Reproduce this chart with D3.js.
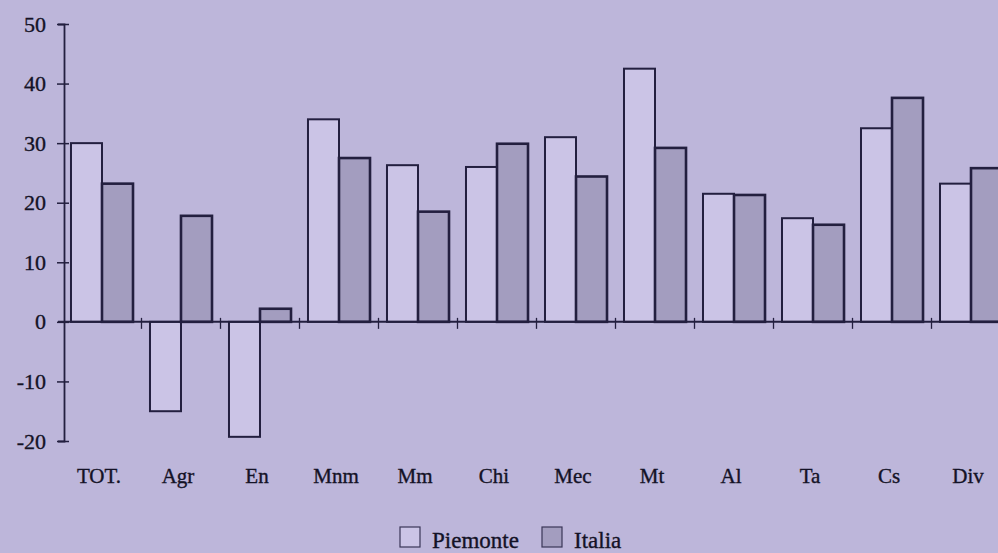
<!DOCTYPE html>
<html>
<head>
<meta charset="utf-8">
<script src="https://cdn.jsdelivr.net/npm/d3@7"></script>
<style>
    html, body { margin: 0; padding: 0; background: #bdb6da; overflow: hidden; }
    svg { display: block; font-family: "Liberation Serif", "DejaVu Serif", serif; }
    text { stroke: #141226; stroke-width: 0.35px; }
</style>
</head>
<body>
<svg width="998" height="553"></svg>
<script>
var svg = d3.select("svg");

var width = +svg.attr("width"),
    height = +svg.attr("height");

// data
var categories = ["TOT.", "Agr", "En", "Mnm", "Mm", "Chi", "Mec", "Mt", "Al", "Ta", "Cs", "Div"];
var piemonte = [30, -15, -19.3, 34, 26.3, 26, 31, 42.5, 21.5, 17.4, 32.5, 23.2];
var italia = [23.2, 17.8, 2.2, 27.5, 18.5, 29.9, 24.4, 29.2, 21.3, 16.3, 37.6, 25.8];
var seriesNames = ["Piemonte", "Italia"];
var yTicks = [-20, -10, 0, 10, 20, 30, 40, 50];

var BgColor = "#bdb6da";
var PiemonteColor = "#cbc4e6";
var ItaliaColor = "#a39dbf";
var InkColor = "#231f3f";
var TextColor = "#141226";

var rows = categories.map(function (c, i) {
    return { cat: c, values: [piemonte[i], italia[i]] };
});

var x = d3.scaleBand()
    .domain(categories)
    .range([54, 1019])
    .padding(0.215);

var xSeries = d3.scaleBand()
    .domain(seriesNames)
    .range([0, x.bandwidth()]);

var y = d3.scaleLinear()
    .domain([-20, 50])
    .range([441, 24]);

svg.append("rect")
    .attr("width", width)
    .attr("height", height)
    .attr("fill", BgColor);

// bars
var group = svg.append("g")
    .attr("class", "bars")
    .selectAll("g")
    .data(rows)
    .enter().append("g")
    .attr("transform", function (d) { return "translate(" + x(d.cat) + ",0)"; });

group.selectAll("rect")
    .data(function (d) {
        return d.values.map(function (v, j) { return { name: seriesNames[j], value: v }; });
    })
    .enter().append("rect")
    .attr("x", function (d) { return xSeries(d.name); })
    .attr("y", function (d) { return y(Math.max(0, d.value)); })
    .attr("width", xSeries.bandwidth())
    .attr("height", function (d) { return Math.abs(y(d.value) - y(0)); })
    .attr("fill", function (d) { return d.name === "Piemonte" ? PiemonteColor : ItaliaColor; })
    .attr("stroke", InkColor)
    .attr("stroke-width", function (d) { return d.name === "Piemonte" ? 2 : 2.6; });

// y axis
var yAxis = d3.axisLeft(y)
    .tickValues(yTicks)
    .tickFormat(function (d) { return String(d); })
    .tickSize(6)
    .tickPadding(12);

var gy = svg.append("g")
    .attr("transform", "translate(64,0)")
    .call(yAxis);
gy.select(".domain").attr("stroke", InkColor).attr("stroke-width", 1.8);
gy.selectAll(".tick line")
    .attr("x1", -7).attr("x2", 5)
    .attr("stroke", InkColor).attr("stroke-width", 1.5);
gy.selectAll(".tick text")
    .attr("fill", TextColor)
    .style("font-family", "Liberation Serif")
    .style("font-size", "22px");

// x axis at zero, ticks between categories
var bounds = categories.slice(1).map(function (c) {
    return x(c) - x.step() * x.paddingInner() / 2;
});

svg.append("line")
    .attr("x1", 58).attr("x2", width)
    .attr("y1", y(0)).attr("y2", y(0))
    .attr("stroke", InkColor)
    .attr("stroke-width", 2);

svg.append("g")
    .selectAll("line")
    .data(bounds)
    .enter().append("line")
    .attr("x1", function (d) { return d; })
    .attr("x2", function (d) { return d; })
    .attr("y1", y(0) - 4)
    .attr("y2", y(0) + 7)
    .attr("stroke", InkColor)
    .attr("stroke-width", 1.3);

svg.append("g")
    .selectAll("text")
    .data(categories)
    .enter().append("text")
    .attr("x", function (d) { return x(d) + x.bandwidth() / 2 - 3; })
    .attr("y", 483)
    .attr("text-anchor", "middle")
    .attr("fill", TextColor)
    .style("font-size", "21px")
    .text(function (d) { return d; });

// legend
var legend = svg.append("g")
    .selectAll("g")
    .data(seriesNames)
    .enter().append("g")
    .attr("transform", function (d, i) { return "translate(" + (i === 0 ? 400 : 542) + ",527)"; });

legend.append("rect")
    .attr("width", 20)
    .attr("height", 20)
    .attr("fill", function (d) { return d === "Piemonte" ? PiemonteColor : ItaliaColor; })
    .attr("stroke", "#3a3658")
    .attr("stroke-width", 1.2);

legend.append("text")
    .attr("x", 32)
    .attr("y", 21)
    .attr("fill", TextColor)
    .style("font-size", "23px")
    .text(function (d) { return d; });
</script>
</body>
</html>
